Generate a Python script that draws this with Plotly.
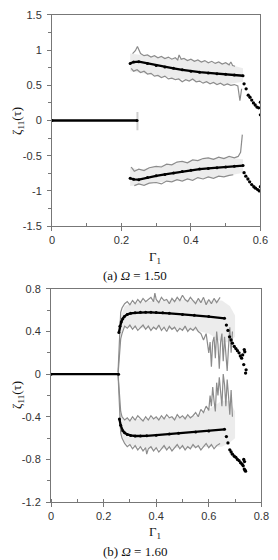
import plotly.graph_objects as go

# ---------------- (a) Omega = 1.50 ----------------
a_zero_x = [0.0, 0.245]
a_zero_y = [0.0, 0.0]

a_up_mean_x = [0.225, 0.235, 0.25, 0.275, 0.3, 0.325, 0.35, 0.375, 0.4, 0.425, 0.45, 0.475, 0.5, 0.525, 0.55]
a_up_mean_y = [0.81, 0.83, 0.835, 0.81, 0.78, 0.76, 0.74, 0.72, 0.70, 0.685, 0.675, 0.665, 0.655, 0.645, 0.635]
a_lo_mean_x = a_up_mean_x
a_lo_mean_y = [-0.82, -0.835, -0.84, -0.81, -0.785, -0.765, -0.745, -0.725, -0.705, -0.69, -0.68, -0.67, -0.66, -0.65, -0.64]

a_up_hi_x = [0.232, 0.24, 0.246, 0.255, 0.265, 0.275, 0.285, 0.295, 0.305, 0.315, 0.325, 0.335, 0.345, 0.355,
             0.362, 0.366, 0.372, 0.38, 0.39, 0.4, 0.41, 0.42, 0.43, 0.44, 0.45, 0.46, 0.47, 0.48, 0.49, 0.5,
             0.51, 0.515, 0.52, 0.527]
a_up_hi_y = [0.95, 0.99, 1.05, 0.95, 0.92, 0.93, 0.9, 0.92, 0.89, 0.91, 0.88, 0.9, 0.87, 0.89,
             0.86, 0.93, 0.87, 0.88, 0.85, 0.87, 0.84, 0.86, 0.83, 0.85, 0.82, 0.84, 0.81, 0.83, 0.8, 0.82,
             0.79, 0.83, 0.78, 0.77]
a_up_lo_x = [0.228, 0.235, 0.245, 0.255, 0.265, 0.275, 0.285, 0.295, 0.305, 0.315, 0.325, 0.335, 0.345, 0.355,
             0.365, 0.375, 0.385, 0.395, 0.405, 0.415, 0.425, 0.435, 0.445, 0.455, 0.465, 0.475, 0.485, 0.495,
             0.505, 0.515, 0.525, 0.535, 0.541, 0.546]
a_up_lo_y = [0.74, 0.70, 0.72, 0.68, 0.70, 0.66, 0.67, 0.63, 0.64, 0.61, 0.63, 0.59, 0.60, 0.58,
             0.59, 0.55, 0.58, 0.56, 0.59, 0.55, 0.56, 0.53, 0.55, 0.52, 0.54, 0.51, 0.53, 0.50,
             0.52, 0.50, 0.51, 0.49, 0.28, 0.45]
a_lo_hi_x = [0.228, 0.237, 0.25, 0.265, 0.28, 0.3, 0.315, 0.33, 0.345, 0.36, 0.375, 0.39, 0.405, 0.42,
             0.435, 0.45, 0.465, 0.48, 0.495, 0.51, 0.525, 0.536, 0.543, 0.548]
a_lo_hi_y = [-0.66, -0.72, -0.69, -0.71, -0.67, -0.65, -0.66, -0.62, -0.63, -0.59, -0.58, -0.6, -0.56, -0.57,
             -0.54, -0.53, -0.55, -0.52, -0.54, -0.51, -0.53, -0.51, -0.45, -0.2]
a_lo_lo_x = [0.237, 0.25, 0.265, 0.28, 0.3, 0.315, 0.33, 0.345, 0.36, 0.375, 0.39, 0.405, 0.42, 0.435,
             0.45, 0.465, 0.48, 0.495, 0.51, 0.522]
a_lo_lo_y = [-0.925, -0.9, -0.92, -0.89, -0.88, -0.9, -0.86, -0.87, -0.84, -0.86, -0.83, -0.85, -0.81, -0.83,
             -0.8, -0.82, -0.79, -0.8, -0.78, -0.77]

a_cloud_x = [0.225, 0.25, 0.3, 0.35, 0.4, 0.45, 0.5, 0.55]
a_cloud_up_hi = [0.95, 0.93, 0.9, 0.88, 0.86, 0.83, 0.81, 0.74]
a_cloud_up_lo = [0.7, 0.68, 0.63, 0.6, 0.57, 0.54, 0.51, 0.55]
a_cloud_lo_hi = [-0.66, -0.7, -0.65, -0.62, -0.58, -0.54, -0.52, -0.55]
a_cloud_lo_lo = [-0.93, -0.91, -0.88, -0.86, -0.84, -0.81, -0.79, -0.74]

a_tail_x = [0.553, 0.559, 0.565, 0.570, 0.575, 0.58, 0.585, 0.59, 0.595, 0.6, 0.6,
            0.553, 0.558, 0.564, 0.569, 0.575, 0.581, 0.586, 0.592, 0.597, 0.6]
a_tail_y = [0.52, 0.45, 0.36, 0.33, 0.29, 0.25, 0.22, 0.19, 0.18, 0.26, 0.08,
            -0.74, -0.79, -0.83, -0.87, -0.91, -0.94, -0.96, -0.98, -1.0, -0.94]

# ---------------- (b) Omega = 1.60 ----------------
b_zero_x = [0.0, 0.257]
b_zero_y = [0.0, 0.0]

b_up_mean_x = [0.258, 0.262, 0.267, 0.273, 0.279, 0.29, 0.303, 0.32, 0.34, 0.36, 0.38, 0.40, 0.425, 0.45,
               0.50, 0.545, 0.60, 0.66]
b_up_mean_y = [0.39, 0.45, 0.49, 0.52, 0.54, 0.56, 0.57, 0.575, 0.58, 0.58, 0.58, 0.578, 0.575, 0.57,
               0.56, 0.553, 0.54, 0.523]
b_lo_mean_x = [0.26, 0.265, 0.273, 0.28, 0.29, 0.303, 0.32, 0.34, 0.364, 0.4, 0.45, 0.485, 0.55, 0.6, 0.66]
b_lo_mean_y = [-0.42, -0.48, -0.53, -0.55, -0.565, -0.575, -0.58, -0.58, -0.578, -0.572, -0.562, -0.554,
               -0.543, -0.533, -0.517]

b_up_hi_x = [0.255, 0.26, 0.265, 0.27, 0.28, 0.29, 0.3, 0.31, 0.32, 0.33, 0.34, 0.35, 0.36, 0.37, 0.38,
             0.39, 0.395, 0.40, 0.41, 0.42, 0.43, 0.44, 0.45, 0.46, 0.47, 0.48, 0.49, 0.50, 0.51, 0.52,
             0.53, 0.54, 0.55, 0.56, 0.57, 0.58, 0.59, 0.6, 0.61, 0.62, 0.63, 0.643]
b_up_hi_y = [0.02, 0.3, 0.58, 0.62, 0.66, 0.68, 0.65, 0.69, 0.66, 0.7, 0.67, 0.71, 0.68, 0.7, 0.72,
             0.68, 0.76, 0.7, 0.67, 0.72, 0.69, 0.7, 0.66, 0.71, 0.68, 0.72, 0.69, 0.74, 0.7, 0.68,
             0.72, 0.69, 0.66, 0.71, 0.67, 0.72, 0.65, 0.7, 0.66, 0.71, 0.67, 0.72]
b_up_lo_x = [0.255, 0.26, 0.265, 0.27, 0.28, 0.29, 0.3, 0.31, 0.32, 0.33, 0.34, 0.35, 0.36, 0.37, 0.38,
             0.39, 0.40, 0.41, 0.42, 0.43, 0.44, 0.45, 0.46, 0.47, 0.48, 0.49, 0.50, 0.51, 0.52, 0.53,
             0.54, 0.55, 0.56, 0.57, 0.58, 0.59, 0.6, 0.605, 0.61, 0.615, 0.62, 0.625, 0.63, 0.635,
             0.64, 0.645, 0.65, 0.655, 0.66, 0.665, 0.67, 0.675, 0.68, 0.685, 0.69]
b_up_lo_y = [0.0, 0.2, 0.33, 0.38, 0.45, 0.43, 0.46, 0.42, 0.45, 0.41, 0.44, 0.46, 0.42, 0.45, 0.41,
             0.44, 0.42, 0.46, 0.41, 0.44, 0.4, 0.45, 0.42, 0.44, 0.4, 0.43, 0.41, 0.45, 0.4, 0.43,
             0.41, 0.44, 0.4, 0.38, 0.32, 0.38, 0.2, 0.3, 0.07, 0.3, 0.35, 0.15, 0.4, 0.28,
             0.05, 0.3, 0.38, 0.12, 0.35, 0.2, 0.03, 0.25, 0.44, 0.2, 0.4]
b_lo_hi_x = b_up_lo_x
b_lo_hi_y = [0.0, -0.2, -0.35, -0.4, -0.43, -0.41, -0.44, -0.4, -0.43, -0.39, -0.42, -0.44, -0.4, -0.43, -0.39,
             -0.42, -0.4, -0.43, -0.39, -0.42, -0.38, -0.41, -0.4, -0.43, -0.38, -0.41, -0.39, -0.42, -0.38, -0.41,
             -0.39, -0.36, -0.4, -0.33, -0.36, -0.3, -0.34, -0.2, -0.3, -0.12, -0.25, -0.35, -0.08, -0.2,
             -0.03, -0.14, -0.3, 0.0, -0.1, -0.3, -0.05, -0.2, -0.38, -0.15, -0.4]
b_lo_lo_x = [0.255, 0.26, 0.265, 0.27, 0.28, 0.29, 0.3, 0.31, 0.32, 0.33, 0.34, 0.35, 0.36, 0.364, 0.37,
             0.38, 0.39, 0.40, 0.41, 0.42, 0.43, 0.44, 0.45, 0.46, 0.47, 0.48, 0.49, 0.50, 0.51, 0.52,
             0.53, 0.54, 0.55, 0.56, 0.57, 0.58, 0.59, 0.6, 0.61, 0.62, 0.63, 0.643]
b_lo_lo_y = [0.0, -0.3, -0.55, -0.6, -0.65, -0.68, -0.66, -0.7, -0.67, -0.71, -0.68, -0.72, -0.69, -0.75, -0.7,
             -0.68, -0.72, -0.69, -0.73, -0.7, -0.67, -0.71, -0.68, -0.72, -0.69, -0.66, -0.7, -0.67, -0.71, -0.68,
             -0.7, -0.66, -0.69, -0.67, -0.71, -0.68, -0.65, -0.69, -0.66, -0.7, -0.67, -0.65]

b_cloud_x = [0.26, 0.28, 0.3, 0.35, 0.4, 0.45, 0.5, 0.55, 0.6, 0.65, 0.68, 0.7]
b_cloud_up_hi = [0.5, 0.64, 0.66, 0.68, 0.69, 0.69, 0.7, 0.69, 0.69, 0.69, 0.64, 0.55]
b_cloud_up_lo = [0.35, 0.44, 0.44, 0.43, 0.43, 0.42, 0.42, 0.41, 0.38, 0.3, 0.3, 0.35]
b_cloud_lo_hi = [-0.35, -0.42, -0.42, -0.42, -0.41, -0.41, -0.4, -0.39, -0.33, -0.25, -0.25, -0.35]
b_cloud_lo_lo = [-0.5, -0.64, -0.67, -0.69, -0.7, -0.7, -0.69, -0.69, -0.68, -0.68, -0.64, -0.6]

b_tail_x = [0.667, 0.673, 0.679, 0.685, 0.69, 0.697, 0.703, 0.709, 0.715, 0.72, 0.725, 0.729, 0.733, 0.735,
            0.737, 0.74, 0.742,
            0.667, 0.673, 0.68, 0.685, 0.69, 0.697, 0.703, 0.709, 0.715, 0.721, 0.727, 0.731, 0.735, 0.738,
            0.74, 0.733, 0.736]
b_tail_y = [0.46, 0.41, 0.35, 0.32, 0.29, 0.26, 0.24, 0.22, 0.2, 0.17, 0.15, 0.18, 0.09, 0.23, 0.21, 0.01, 0.04,
            -0.585, -0.645, -0.71, -0.73, -0.75, -0.77, -0.78, -0.8, -0.81, -0.83, -0.845, -0.86, -0.89, -0.9,
            -0.91, -0.8, -0.82]

# ---------------- styling ----------------
ENV = "#8c8c8c"
CLOUD = "rgba(175,175,175,0.24)"
fig = go.Figure()


def band(x, hi, lo, xa, ya):
    fig.add_trace(go.Scatter(x=x, y=lo, mode="lines", line=dict(width=0), xaxis=xa, yaxis=ya,
                             showlegend=False, hoverinfo="skip"))
    fig.add_trace(go.Scatter(x=x, y=hi, mode="lines", line=dict(width=0), fill="tonexty",
                             fillcolor=CLOUD, xaxis=xa, yaxis=ya, showlegend=False, hoverinfo="skip"))


def env(x, y, xa, ya):
    fig.add_trace(go.Scatter(x=x, y=y, mode="lines", line=dict(color=ENV, width=1.2),
                             xaxis=xa, yaxis=ya, showlegend=False))


def mean(x, y, xa, ya):
    fig.add_trace(go.Scatter(x=x, y=y, mode="lines+markers", line=dict(color="black", width=2.3),
                             marker=dict(color="black", size=3), xaxis=xa, yaxis=ya, showlegend=False))


# (a)
band(a_cloud_x, a_cloud_up_hi, a_cloud_up_lo, "x", "y")
band(a_cloud_x, a_cloud_lo_hi, a_cloud_lo_lo, "x", "y")
fig.add_trace(go.Scatter(x=[0.246, 0.246], y=[0.12, -0.14], mode="lines", line=dict(color="#cfcfcf", width=2),
                         xaxis="x", yaxis="y", showlegend=False))
env(a_up_hi_x, a_up_hi_y, "x", "y")
env(a_up_lo_x, a_up_lo_y, "x", "y")
env(a_lo_hi_x, a_lo_hi_y, "x", "y")
env(a_lo_lo_x, a_lo_lo_y, "x", "y")
mean(a_zero_x, a_zero_y, "x", "y")
mean(a_up_mean_x, a_up_mean_y, "x", "y")
mean(a_lo_mean_x, a_lo_mean_y, "x", "y")
fig.add_trace(go.Scatter(x=a_tail_x, y=a_tail_y, mode="markers", marker=dict(color="black", size=3.3),
                         xaxis="x", yaxis="y", showlegend=False))

# (b)
band(b_cloud_x, b_cloud_up_hi, b_cloud_up_lo, "x2", "y2")
band(b_cloud_x, b_cloud_lo_hi, b_cloud_lo_lo, "x2", "y2")
env(b_up_hi_x, b_up_hi_y, "x2", "y2")
env(b_up_lo_x, b_up_lo_y, "x2", "y2")
env(b_lo_hi_x, b_lo_hi_y, "x2", "y2")
env(b_lo_lo_x, b_lo_lo_y, "x2", "y2")
mean(b_zero_x, b_zero_y, "x2", "y2")
mean(b_up_mean_x, b_up_mean_y, "x2", "y2")
mean(b_lo_mean_x, b_lo_mean_y, "x2", "y2")
fig.add_trace(go.Scatter(x=b_tail_x, y=b_tail_y, mode="markers", marker=dict(color="black", size=3.3),
                         xaxis="x2", yaxis="y2", showlegend=False))

TICKFONT = dict(family="Liberation Sans, Arial, sans-serif", size=11, color="#333")
AX = dict(showgrid=False, zeroline=False, showline=True, linecolor="#777", linewidth=1, mirror=True,
          ticks="outside", ticklen=4, tickcolor="#777", tickfont=TICKFONT)

a_xticks = [0, 0.2, 0.4, 0.6]
a_yticks = [-1.5, -1, -0.5, 0, 0.5, 1, 1.5]
b_xticks = [0, 0.2, 0.4, 0.6, 0.8]
b_yticks = [-1.2, -0.8, -0.4, 0, 0.4, 0.8]


def lab(v):
    return "%g" % v


fig.update_layout(
    width=278, height=560, margin=dict(l=0, r=0, t=0, b=0),
    paper_bgcolor="white", plot_bgcolor="white",
    xaxis=dict(**AX, domain=[51 / 278, 268 / 278], range=[0, 0.6], anchor="y",
               tickvals=a_xticks, ticktext=[lab(v) for v in a_xticks],
               minor=dict(tick0=0, dtick=0.1, ticks="inside", ticklen=3, tickcolor="#777")),
    yaxis=dict(**AX, domain=[(560 - 225) / 560, (560 - 9) / 560], range=[-1.5, 1.5], anchor="x",
               tickvals=a_yticks, ticktext=[lab(v) for v in a_yticks], ticklabelstandoff=3,
               minor=dict(tick0=0, dtick=0.25, ticks="outside", ticklen=3, tickcolor="#777")),
    xaxis2=dict(**AX, domain=[50 / 278, 269 / 278], range=[0, 0.8], anchor="y2",
                tickvals=b_xticks, ticktext=[lab(v) for v in b_xticks],
                minor=dict(tick0=0, dtick=0.1, ticks="inside", ticklen=3, tickcolor="#777")),
    yaxis2=dict(**AX, domain=[(560 - 507) / 560, (560 - 289) / 560], range=[-1.2, 0.8], anchor="x2",
                tickvals=b_yticks, ticktext=[lab(v) for v in b_yticks], ticklabelstandoff=3,
                minor=dict(tick0=0, dtick=0.2, ticks="outside", ticklen=3, tickcolor="#777")),
)

SERIF = "Liberation Serif, Times New Roman, serif"
ann = []
ann.append(dict(text="Γ<sub>1</sub>", x=158 / 278, y=1 - 257 / 560))
ann.append(dict(text="(a) <i>Ω</i> = 1.50", x=137 / 278, y=1 - 275 / 560))
ann.append(dict(text="Γ<sub>1</sub>", x=158 / 278, y=1 - 538 / 560))
ann.append(dict(text="(b) <i>Ω</i> = 1.60", x=137 / 278, y=1 - 557 / 560))
for a in ann:
    fig.add_annotation(xref="paper", yref="paper", xanchor="center", yanchor="middle", showarrow=False,
                       font=dict(family=SERIF, size=13, color="#111"), **a)
for yy in [117, 397]:
    fig.add_annotation(text="ζ<sub>11</sub>(τ)", xref="paper", yref="paper", x=15 / 278, y=1 - yy / 560,
                       xanchor="center", yanchor="middle", showarrow=False, textangle=-90,
                       font=dict(family=SERIF, size=13, color="#111"))

fig.write_html("out.html")
